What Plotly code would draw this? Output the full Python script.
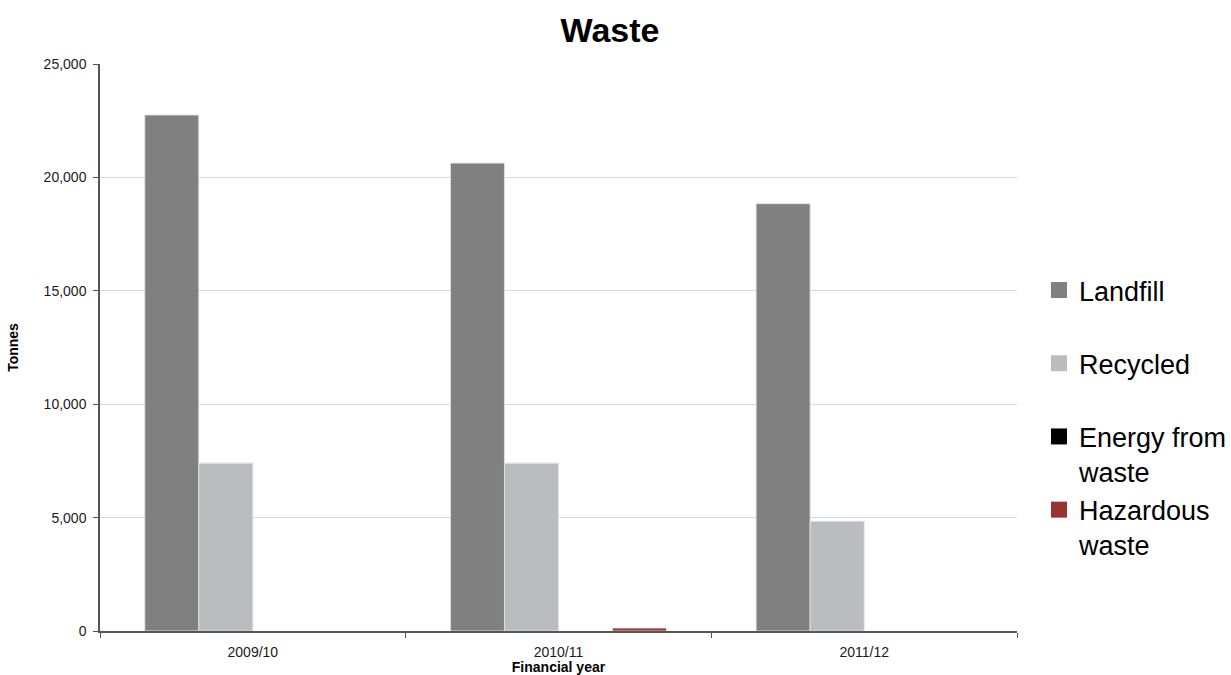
import plotly.graph_objects as go

# Waste by financial year, in tonnes
years = ["2009/10", "2010/11", "2011/12"]
landfill = [22750, 20630, 18840]
recycled = [7400, 7400, 4840]
energy_from_waste = [0, 0, 0]
hazardous = [0, 130, 0]

series = [
    ("Landfill", landfill, "#808080"),
    ("Recycled", recycled, "#BBBCC0"),
    ("Energy from<br>waste", energy_from_waste, "#000000"),
    ("Hazardous<br>waste", hazardous, "#993333"),
]

FONT = "Liberation Sans, Arial, sans-serif"

fig = go.Figure()
for name, vals, color in series:
    # bars carry a faint light outline; empty bars get none
    widths = [1 if v > 0 else 0 for v in vals]
    fig.add_trace(go.Bar(
        x=years, y=vals, name=name, showlegend=False,
        marker=dict(color=color, line=dict(color="rgba(225,225,225,0.9)", width=widths)),
        legendgroup=name,
    ))

# legend keys: larger square swatches
for name, vals, color in series:
    label = name if "<br>" in name else name + "<br> "
    fig.add_trace(go.Scatter(
        x=[None], y=[None], mode="markers", name=label, legendgroup=name,
        marker=dict(symbol="square", size=16, color=color),
        hoverinfo="skip",
    ))

fig.update_layout(
    width=1231, height=675,
    barmode="group", bargap=0.293, bargroupgap=0,
    plot_bgcolor="white", paper_bgcolor="white",
    margin=dict(l=100, r=214, t=64, b=44, autoexpand=False),
    font=dict(family=FONT, color="#000000"),
    title=dict(text="<b>Waste</b>", x=610 / 1231, xanchor="center", y=1 - 30 / 675, yanchor="middle",
               yref="container", font=dict(size=34, family=FONT, color="#000000")),
    legend=dict(xref="container", x=1039 / 1231, xanchor="left",
                yref="container", y=1 - 266 / 675, yanchor="top",
                font=dict(size=27, family=FONT, color="#000000"),
                valign="top", tracegroupgap=0, bgcolor="rgba(0,0,0,0)",
                itemsizing="trace"),
    showlegend=True,
)

fig.update_xaxes(
    automargin=True,
    showline=True, linecolor="#555555", linewidth=1.5,
    ticks="outside", tickson="boundaries", ticklen=5, tickcolor="#555555",
    tickfont=dict(size=14, family=FONT, color="#1a1a1a"),
    ticklabelstandoff=7,
    title=dict(text="<b>Financial year</b>", font=dict(size=14, family=FONT, color="#000000"), standoff=7),
    showgrid=False,
)
fig.update_yaxes(
    automargin=True,
    range=[0, 25000], dtick=5000, tickformat=",",
    showline=True, linecolor="#555555", linewidth=1.5,
    ticks="outside", ticklen=5, tickcolor="#555555",
    tickfont=dict(size=14, family=FONT, color="#1a1a1a"),
    ticklabelstandoff=4,
    showgrid=True, gridcolor="#D9D9D9", gridwidth=1,
    zeroline=False,
    title=dict(text="<b>Tonnes</b>", font=dict(size=14, family=FONT, color="#000000"), standoff=22),
)

fig.write_html("out.html")
